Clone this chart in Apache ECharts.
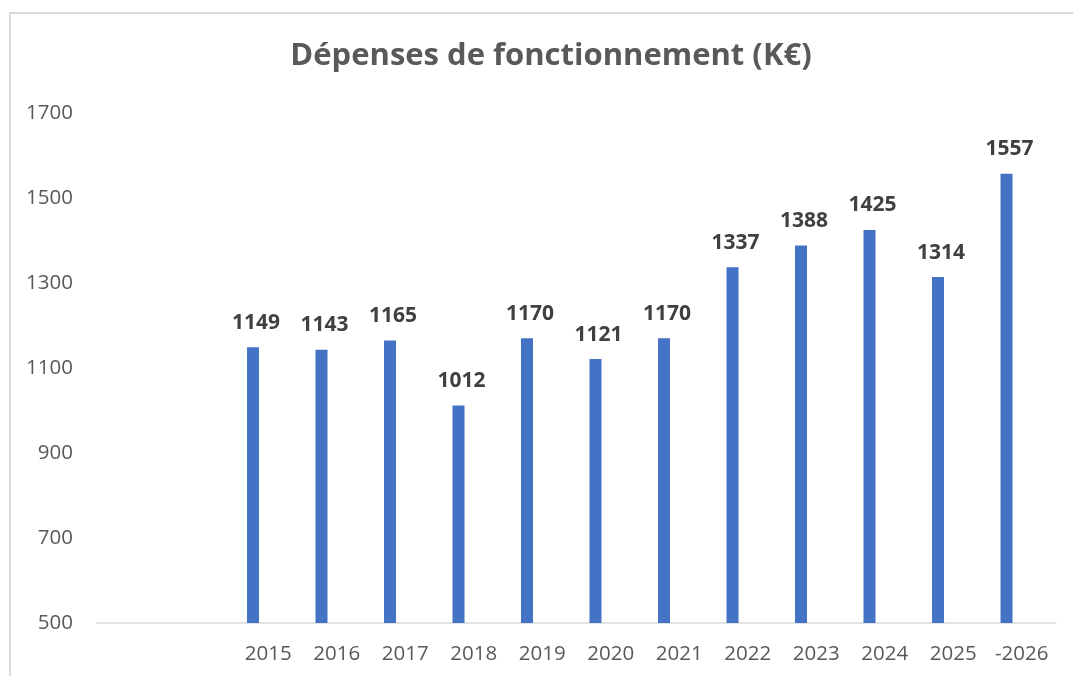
<!DOCTYPE html>
<html>
<head>
<meta charset="utf-8">
<script src="https://cdn.jsdelivr.net/npm/echarts@6/dist/echarts.min.js"></script>
<style>
html,body{margin:0;padding:0;background:#fff;}
#frame{position:absolute;left:9px;top:12px;width:1080px;height:680px;border:2px solid #d9d9d9;box-sizing:border-box;}
#chart{position:absolute;left:0;top:0;width:1073px;height:676px;}
</style>
</head>
<body>
<div id="frame"></div>
<div id="chart"></div>
<script>
// Dépenses de fonctionnement (K€)
var annees = ['', '', '2015', '2016', '2017', '2018', '2019', '2020', '2021', '2022', '2023', '2024', '2025', '-2026'];
var depenses = ['-', '-', 1149, 1143, 1165, 1012, 1170, 1121, 1170, 1337, 1388, 1425, 1314, 1557];
var ticksY = [500, 700, 900, 1100, 1300, 1500, 1700];

var police = '"Open Sans", "Noto Sans", sans-serif';

var myChart = echarts.init(document.getElementById('chart'));
var option = {
	backgroundColor: 'transparent',
	title: {
		text: 'Dépenses de fonctionnement (K€)',
		left: 546,
		top: 36,
		textAlign: 'center',
		textStyle: {
			color: '#595959',
			fontSize: 31,
			fontWeight: 'bold',
			fontFamily: police
		}
	},
	grid: {
		left: 97,
		right: 17,
		top: 113,
		bottom: 53,
		containLabel: false
	},
	xAxis: {
		type: 'category',
		data: annees,
		axisLine: {lineStyle: {color: '#d9d9d9', width: 1.5}},
		axisTick: {show: false},
		axisLabel: {
			color: '#595959',
			fontSize: 20.5,
			fontFamily: police,
			margin: 21,
			interval: 0
		}
	},
	yAxis: {
		type: 'value',
		min: ticksY[0],
		max: ticksY[ticksY.length - 1],
		interval: 200,
		splitLine: {show: false},
		axisLine: {show: false},
		axisTick: {show: false},
		axisLabel: {
			color: '#595959',
			fontSize: 20.5,
			fontFamily: police,
			margin: 24,
			formatter: function (v) { return String(v); }
		}
	},
	series: [
		{
			name: 'Dépenses',
			type: 'bar',
			data: depenses,
			barWidth: 12,
			barGap: '154%',
			itemStyle: {color: '#4472c4'},
			label: {
				show: true,
				position: 'top',
				distance: 14,
				color: '#404040',
				fontSize: 21,
				fontWeight: 'bold',
				fontFamily: police,
				offset: [3, 0]
			}
		},
		{
			name: 'vide',
			type: 'bar',
			data: [],
			barWidth: 12
		}
	]
};
myChart.setOption(option);
</script>
</body>
</html>
